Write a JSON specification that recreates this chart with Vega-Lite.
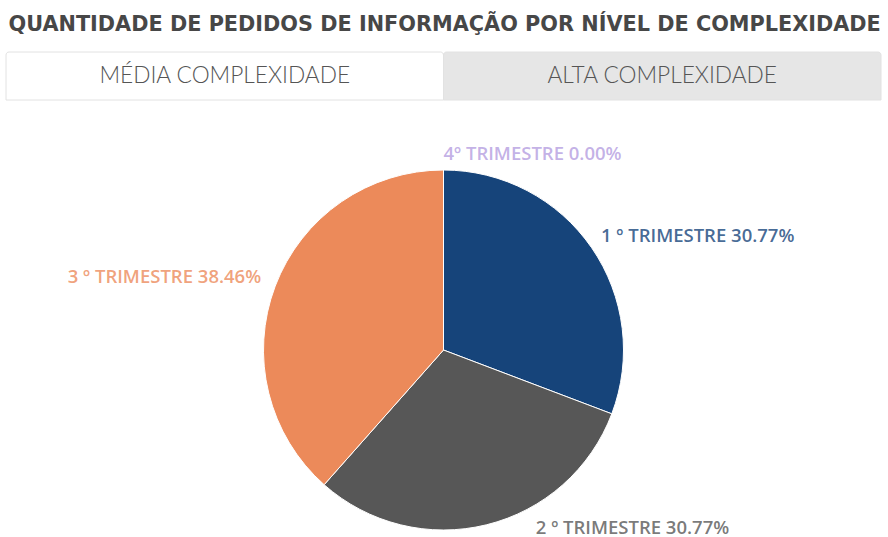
{
  "$schema": "https://vega.github.io/schema/vega-lite/v6.json",
  "background": "white",
  "padding": {"left": 5, "top": 13, "right": 8, "bottom": 0},
  "bounds": "flush",
  "title": {"text": "QUANTIDADE DE PEDIDOS DE INFORMAÇÃO POR NÍVEL DE COMPLEXIDADE", "anchor": "start", "fontSize": 20.8, "font": "DejaVu Sans", "fontWeight": 700, "color": "#474747", "offset": 16, "dx": 3},
  "config": {"view": {"stroke": null}},
  "spacing": 70,
  "resolve": {"scale": {"color": "independent", "x": "independent", "theta": "independent"}},
  "vconcat": [
    {
      "width": 875,
      "height": 48,
      "data": {"values": [
        {"aba": "MÉDIA COMPLEXIDADE", "ativa": "sim", "ordem": 1},
        {"aba": "ALTA COMPLEXIDADE", "ativa": "não", "ordem": 2}
      ]},
      "encoding": {"x": {"field": "aba", "type": "nominal", "sort": {"field": "ordem"}, "axis": null, "scale": {"paddingInner": 0, "paddingOuter": 0}}},
      "layer": [
        {"mark": {"type": "bar", "stroke": "#e2e2e2", "strokeWidth": 1, "cornerRadiusTopRight": 3, "cornerRadiusTopLeft": 3},
         "encoding": {"color": {"field": "ativa", "type": "nominal", "scale": {"domain": ["sim", "não"], "range": ["#ffffff", "#e6e6e6"]}, "legend": null}}},
        {"mark": {"type": "text", "fontSize": 22.7, "font": "Lato", "fontWeight": 300, "color": "#555555"},
         "encoding": {"text": {"field": "aba"}}}
      ]
    },
    {
      "width": 875,
      "height": 360,
      "data": {"values": [
        {"trimestre": "1 º TRIMESTRE", "pedidos": 4, "rotulo": "1 º TRIMESTRE 30.77%", "ordem": 1},
        {"trimestre": "2 º TRIMESTRE", "pedidos": 4, "rotulo": "2 º TRIMESTRE 30.77%", "ordem": 2},
        {"trimestre": "3 º TRIMESTRE", "pedidos": 5, "rotulo": "3 º TRIMESTRE 38.46%", "ordem": 3},
        {"trimestre": "4º TRIMESTRE", "pedidos": 0, "rotulo": "4º TRIMESTRE 0.00%", "ordem": 4}
      ]},
      "encoding": {
        "theta": {"field": "pedidos", "type": "quantitative", "stack": true},
        "order": {"field": "ordem", "type": "quantitative"},
        "color": {"field": "trimestre", "type": "nominal", "scale": {"domain": ["1 º TRIMESTRE", "2 º TRIMESTRE", "3 º TRIMESTRE", "4º TRIMESTRE"], "range": ["#16447a", "#575757", "#ec8a5a", "#b49ddf"]}, "legend": null}
      },
      "layer": [
        {"mark": {"type": "arc", "outerRadius": 180, "stroke": "#ffffff", "strokeWidth": 1}},
        {"mark": {"type": "text", "radius": 195, "align": "left", "fontSize": 18.5, "font": "Open Sans", "fontWeight": 600, "dx": -3, "dy": -3, "fillOpacity": 0.8},
         "encoding": {"text": {"condition": {"test": "datum.ordem == 1", "field": "rotulo"}, "value": ""}}},
        {"mark": {"type": "text", "radius": 195, "align": "left", "fontSize": 18.5, "font": "Open Sans", "fontWeight": 600, "dx": 0, "dy": -1, "fillOpacity": 0.8},
         "encoding": {"text": {"condition": {"test": "datum.ordem == 4", "field": "rotulo"}, "value": ""}}},
        {"mark": {"type": "text", "radius": 185, "align": "left", "fontSize": 18.5, "font": "Open Sans", "fontWeight": 600, "dx": 48, "dy": -2, "fillOpacity": 0.8},
         "encoding": {"text": {"condition": {"test": "datum.ordem == 2", "field": "rotulo"}, "value": ""}}},
        {"mark": {"type": "text", "radius": 195, "align": "right", "fontSize": 18.5, "font": "Open Sans", "fontWeight": 600, "dx": 0, "dy": -4, "fillOpacity": 0.8},
         "encoding": {"text": {"condition": {"test": "datum.ordem == 3", "field": "rotulo"}, "value": ""}}}
      ]
    }
  ]
}
